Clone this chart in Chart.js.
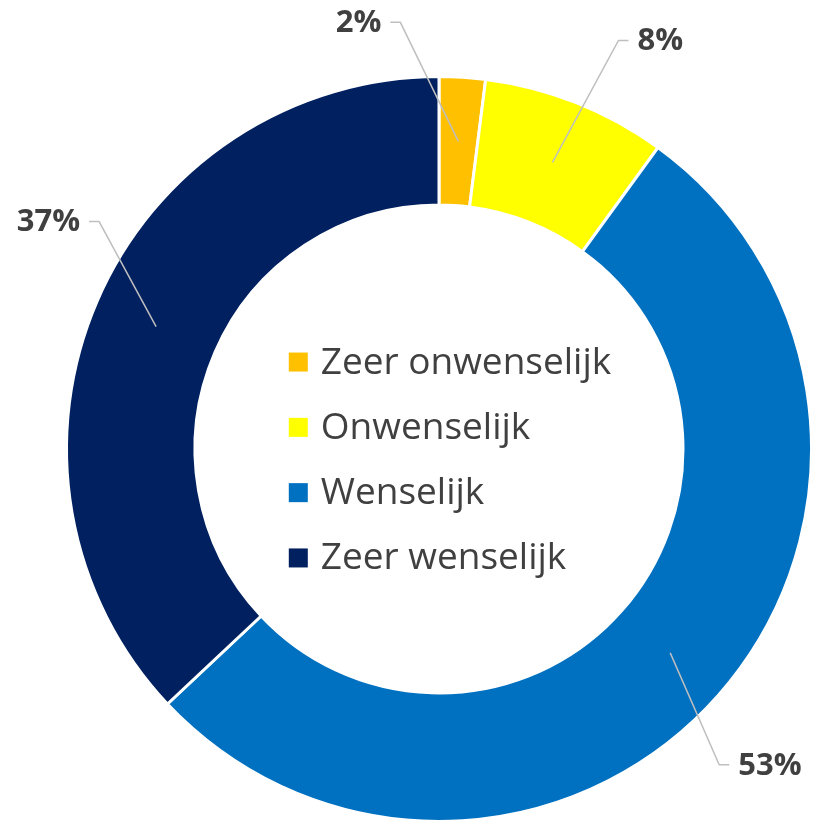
<!DOCTYPE html>
<html>
<head>
<meta charset="utf-8">
<script src="https://cdn.jsdelivr.net/npm/chart.js@4/dist/chart.umd.min.js"></script>
<style>
	html, body { margin: 0; padding: 0; background: #fff; }
	#wrap { width: 813px; height: 825px; }
</style>
</head>
<body>
<div id="wrap"><canvas id="donut-chart" width="813" height="825"></canvas></div>
<script>
	// chart values
	var labels = ['Zeer onwenselijk', 'Onwenselijk', 'Wenselijk', 'Zeer wenselijk'],
			values = [2, 8, 53, 37],
			sliceColors = ['#FFC000', '#FFFF00', '#0070C0', '#002060'];

	// where each percentage label sits, relative to the middle of its slice (layout only)
	var labelOffsets = [
			{ dx: -58, dy: -119, side: 'left' },
			{ dx: 66, dy: -122, side: 'right' },
			{ dx: 49, dy: 112, side: 'right' },
			{ dx: -57, dy: -105, side: 'left' }
		],
		textColor = '#404040',
		leaderColor = '#BFBFBF';

	// percentage labels with leader lines
	var leaderLabels = {
		id: 'leaderLabels',
		afterDatasetsDraw: function(chart) {
			var ctx = chart.ctx,
					meta = chart.getDatasetMeta(0),
					total = values.reduce(function(a, b) { return a + b; }, 0);

			ctx.save();
			ctx.font = 'bold 31px "Open Sans"';
			ctx.textBaseline = 'middle';

			meta.data.forEach(function(arc, i) {
				var start = arc.tooltipPosition(),
						off = labelOffsets[i],
						ex = start.x + off.dx,
						ey = start.y + off.dy,
						dir = off.side === 'left' ? -1 : 1,
						hx = ex + dir * 10,
						text = Math.round(values[i] / total * 100) + '%';

				ctx.strokeStyle = leaderColor;
				ctx.lineWidth = 1.5;
				ctx.beginPath();
				ctx.moveTo(start.x, start.y);
				ctx.lineTo(ex, ey);
				ctx.lineTo(hx, ey);
				ctx.stroke();

				ctx.fillStyle = textColor;
				ctx.textAlign = off.side === 'left' ? 'right' : 'left';
				ctx.fillText(text, hx + dir * 9, ey + 1);
			});
			ctx.restore();
		}
	};

	// legend inside the hole
	var centerLegend = {
		id: 'centerLegend',
		afterDraw: function(chart) {
			var ctx = chart.ctx,
					area = chart.chartArea,
					cx = (area.left + area.right) / 2,
					cy = (area.top + area.bottom) / 2,
					box = 19,
					gap = 13,
					rowH = 65.3,
					maxW = 0;

			ctx.save();
			ctx.font = '37px "Open Sans"';
			labels.forEach(function(l) {
				maxW = Math.max(maxW, ctx.measureText(l).width);
			});

			var left = cx + 11 - (box + gap + maxW) / 2,
					top = cy + 11 - rowH * (labels.length - 1) / 2;

			ctx.textBaseline = 'middle';
			ctx.textAlign = 'left';
			labels.forEach(function(l, i) {
				var y = top + i * rowH;
				ctx.fillStyle = sliceColors[i];
				ctx.fillRect(left, y - box / 2, box, box);
				ctx.fillStyle = textColor;
				ctx.fillText(l, left + box + gap, y + 1);
			});
			ctx.restore();
		}
	};

	var ctx = document.getElementById('donut-chart').getContext('2d'),
			donutChart = new Chart(ctx, {
				type: 'doughnut',
				data: {
					labels: labels,
					datasets: [{
						data: values,
						backgroundColor: sliceColors,
						borderColor: '#FFFFFF',
						borderWidth: 3,
						hoverOffset: 0
					}]
				},
				options: {
					responsive: false,
					animation: false,
					cutout: '65.5%',
					layout: { padding: { left: 65, right: -6, top: 73, bottom: -2 } },
					plugins: {
						legend: { display: false },
						tooltip: { enabled: false }
					}
				},
				plugins: [leaderLabels, centerLegend]
			});
</script>
</body>
</html>
